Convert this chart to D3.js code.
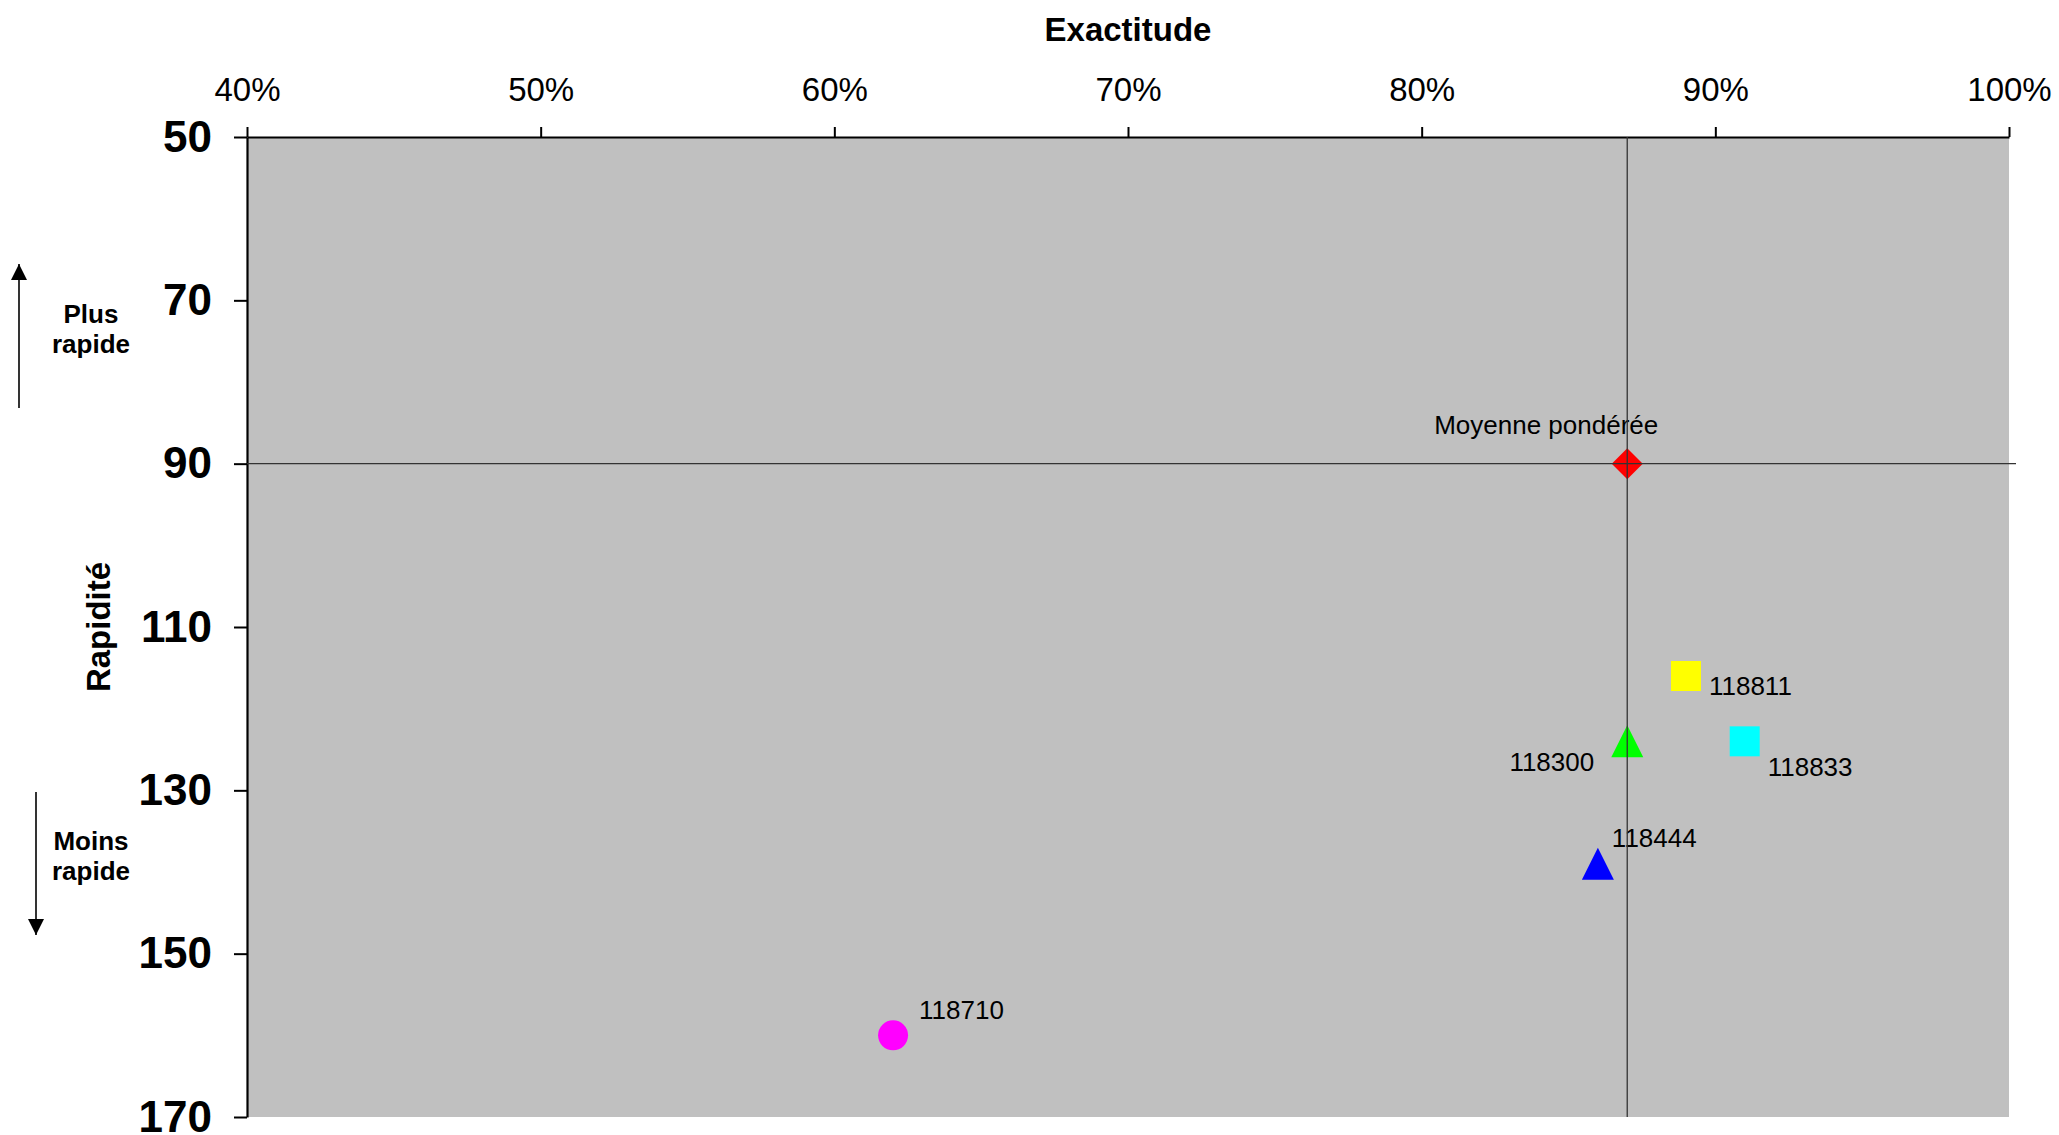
<!DOCTYPE html>
<html>
<head>
<meta charset="utf-8">
<script src="https://cdn.jsdelivr.net/npm/d3@7"></script>
<style>
  html, body { margin: 0; padding: 0; background: #fff; }
  svg { display: block; font-family: "Liberation Sans", Arial, sans-serif; }
</style>
</head>
<body>
<svg id="chart" width="2059" height="1135"></svg>
<script>
// ---- Data ----
const names = ["Moyenne pondérée", "118811", "118833", "118300", "118444", "118710"];
const exactitude = [0.87, 0.89, 0.91, 0.87, 0.86, 0.62];
const rapidite = [90, 116, 124, 124, 139, 160];
const xTicks = [0.4, 0.5, 0.6, 0.7, 0.8, 0.9, 1.0];
const yTicks = [50, 70, 90, 110, 130, 150, 170];
const meanExactitude = 0.87;
const meanRapidite = 90;

// ---- Styles (separate from data) ----
const markerStyle = {
  "Moyenne pondérée": { shape: "diamond", color: "#FF0000", size: 31, lx: 31, ly: -30, anchor: "end" },
  "118811": { shape: "square", color: "#FFFF00", size: 30, lx: 23, ly: 19, anchor: "start" },
  "118833": { shape: "square", color: "#00FFFF", size: 30, lx: 23, ly: 35, anchor: "start" },
  "118300": { shape: "triangle", color: "#00FF00", size: 32, lx: -33, ly: 30, anchor: "end" },
  "118444": { shape: "triangle", color: "#0000FF", size: 32, lx: 14, ly: -17, anchor: "start" },
  "118710": { shape: "circle", color: "#FF00FF", size: 30, lx: 26, ly: -16, anchor: "start" }
};

const svg = d3.select("#chart");
const margin = { left: 247, right: 50, top: 137, bottom: 18 };
const W = 2059, H = 1135;

const x = d3.scaleLinear().domain([0.4, 1.0]).range([margin.left, W - margin.right]);
const y = d3.scaleLinear().domain([50, 170]).range([margin.top, H - margin.bottom]);

// plot background
svg.append("rect")
  .attr("x", x(0.4)).attr("y", y(50))
  .attr("width", x(1.0) - x(0.4)).attr("height", y(170) - y(50))
  .attr("fill", "#C0C0C0");

// axes
const xAxis = d3.axisTop(x).tickValues(xTicks).tickFormat(d3.format(".0%")).tickSize(10).tickSizeOuter(0).tickPadding(26);
const gx = svg.append("g").attr("transform", `translate(0,${y(50)})`).call(xAxis);
gx.select(".domain").attr("stroke", "#000").attr("stroke-width", 2.2);
gx.selectAll(".tick line").attr("stroke", "#000").attr("stroke-width", 2);
gx.selectAll(".tick text").attr("font-size", 33).attr("fill", "#000")
  .attr("font-family", "'Liberation Sans', Arial, sans-serif");

const yAxis = d3.axisLeft(y).tickValues(yTicks).tickSize(13).tickSizeOuter(0).tickPadding(22);
const gy = svg.append("g").attr("transform", `translate(${x(0.4)},0)`).call(yAxis);
gy.select(".domain").attr("stroke", "#000").attr("stroke-width", 2.2);
gy.selectAll(".tick line").attr("stroke", "#000").attr("stroke-width", 2);
gy.selectAll(".tick text").attr("font-size", 44).attr("font-weight", "bold").attr("fill", "#000")
  .attr("font-family", "'Liberation Sans', Arial, sans-serif");

// axis titles
svg.append("text")
  .attr("x", (x(0.4) + x(1.0)) / 2).attr("y", 41)
  .attr("text-anchor", "middle").attr("font-size", 33).attr("font-weight", "bold")
  .text("Exactitude");
svg.append("text")
  .attr("transform", `translate(110,${(y(50) + y(170)) / 2}) rotate(-90)`)
  .attr("text-anchor", "middle").attr("font-size", 33).attr("font-weight", "bold")
  .text("Rapidité");

// direction hints
const defs = svg.append("defs");
defs.append("marker").attr("id", "arrow")
  .attr("viewBox", "0 0 16 16").attr("refX", 16).attr("refY", 8)
  .attr("markerWidth", 16).attr("markerHeight", 16).attr("markerUnits", "userSpaceOnUse")
  .attr("orient", "auto")
  .append("path").attr("d", "M0,0 L16,8 L0,16 Z").attr("fill", "#000");

svg.append("line").attr("x1", 19).attr("x2", 19).attr("y1", 408).attr("y2", 264)
  .attr("stroke", "#000").attr("stroke-width", 1.6).attr("marker-end", "url(#arrow)");
svg.append("line").attr("x1", 36).attr("x2", 36).attr("y1", 792).attr("y2", 935)
  .attr("stroke", "#000").attr("stroke-width", 1.6).attr("marker-end", "url(#arrow)");

const hint = (lines, cx, y0) => {
  const t = svg.append("text").attr("text-anchor", "middle").attr("font-size", 26).attr("font-weight", "bold");
  lines.forEach((s, i) => t.append("tspan").attr("x", cx).attr("y", y0 + i * 30).text(s));
};
hint(["Plus", "rapide"], 91, 323);
hint(["Moins", "rapide"], 91, 850);

// symbol types
const symSquare = { draw(ctx, size) { const h = size / 2; ctx.rect(-h, -h, size, size); } };
const symDiamond = { draw(ctx, size) { const h = size / 2; ctx.moveTo(0, -h); ctx.lineTo(h, 0); ctx.lineTo(0, h); ctx.lineTo(-h, 0); ctx.closePath(); } };
const symTriangle = { draw(ctx, size) { const h = size / 2; ctx.moveTo(0, -h); ctx.lineTo(h, h); ctx.lineTo(-h, h); ctx.closePath(); } };
const symCircle = { draw(ctx, size) { const r = size / 2; ctx.moveTo(r, 0); ctx.arc(0, 0, r, 0, 2 * Math.PI); } };
const shapeMap = { square: symSquare, diamond: symDiamond, triangle: symTriangle, circle: symCircle };

const points = names.map((n, i) => ({ name: n, ex: exactitude[i], ra: rapidite[i] }));

const g = svg.append("g");
g.selectAll("path.pt").data(points).join("path")
  .attr("class", "pt")
  .attr("transform", d => `translate(${x(d.ex)},${y(d.ra)})`)
  .attr("d", d => { const s = markerStyle[d.name]; return d3.symbol().type(shapeMap[s.shape]).size(s.size)(); })
  .attr("fill", d => markerStyle[d.name].color);

g.selectAll("text.lbl").data(points).join("text")
  .attr("class", "lbl")
  .attr("x", d => x(d.ex) + markerStyle[d.name].lx)
  .attr("y", d => y(d.ra) + markerStyle[d.name].ly)
  .attr("text-anchor", d => markerStyle[d.name].anchor)
  .attr("font-size", 26).attr("fill", "#000")
  .text(d => d.name);

// reference lines (drawn over markers, as in the reference)
svg.append("line")
  .attr("x1", x(meanExactitude)).attr("x2", x(meanExactitude))
  .attr("y1", y(50)).attr("y2", y(170))
  .attr("stroke", "#333").attr("stroke-width", 1.3);
svg.append("line")
  .attr("x1", x(0.4)).attr("x2", x(1.0) + 7)
  .attr("y1", y(meanRapidite)).attr("y2", y(meanRapidite))
  .attr("stroke", "#333").attr("stroke-width", 1.3);
</script>
</body>
</html>
